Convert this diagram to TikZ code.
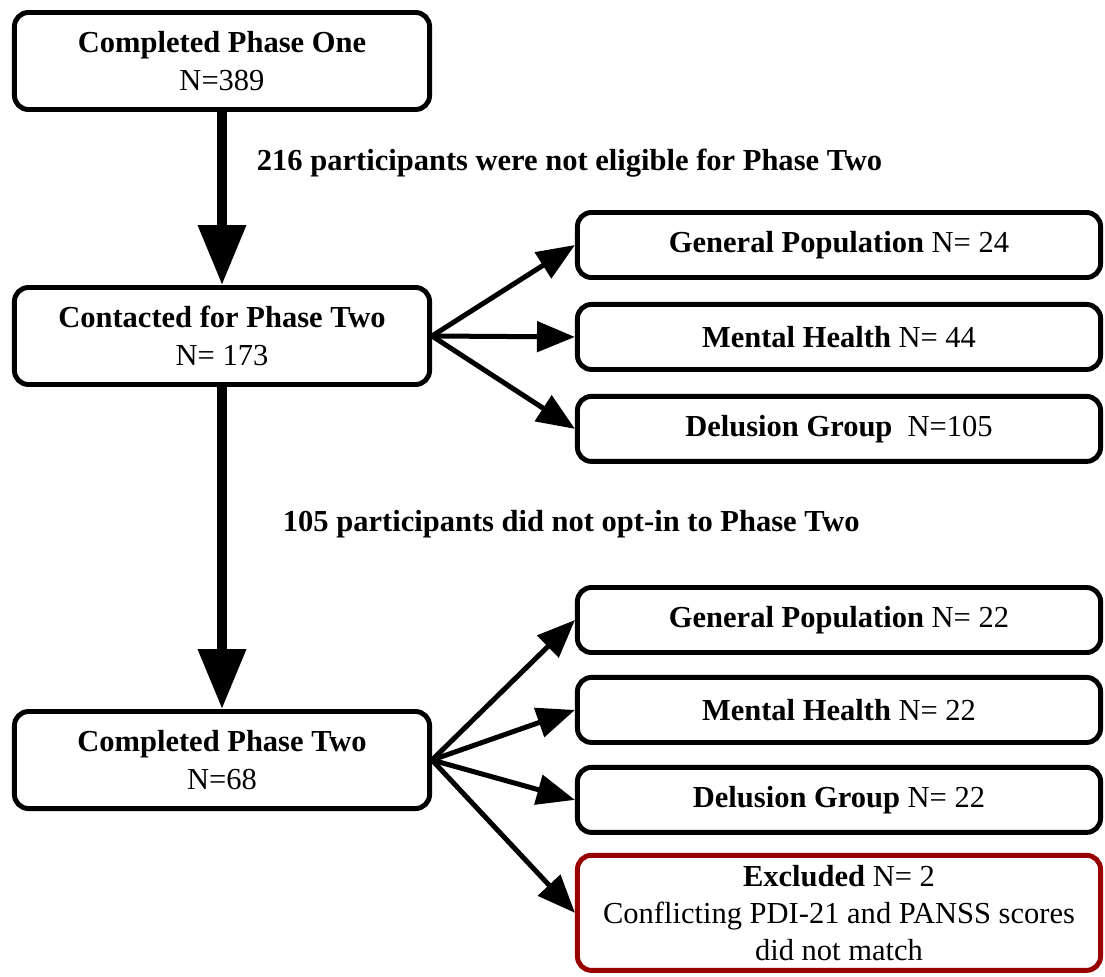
\documentclass[tikz,border=0pt]{standalone}
\usepackage{fontspec}
\setmainfont{Liberation Serif}
\usetikzlibrary{positioning,arrows.meta}
\definecolor{exclred}{RGB}{153,0,0}
\tikzset{
  stage box/.style={
    draw, line width=3.5pt, rounded corners=0.35cm,
    minimum width=10.375cm, minimum height=2.425cm,
    align=center, font=\fontsize{21.7pt}{27pt}\selectfont,
  },
  group box/.style={
    draw, line width=3.5pt, rounded corners=0.35cm,
    minimum width=13.075cm, minimum height=1.625cm,
    align=center, font=\fontsize{21.7pt}{26.5pt}\selectfont,
  },
  excluded box/.style={
    group box, draw=exclred, minimum height=2.875cm,
  },
  big arrow/.style={
    line width=0.25cm, -{Triangle[length=1.5cm,width=1.15cm]},
  },
  fan arrow/.style={
    line width=0.125cm, -{Triangle[length=0.95cm,width=0.75cm]},
  },
  annotation/.style={
    anchor=west, font=\fontsize{21.7pt}{26pt}\selectfont\bfseries,
  }
}

\begin{document}
\begin{tikzpicture}[x=0.025cm, y=-0.025cm, node distance=0.55cm]
        \useasboundingbox (0,0) rectangle (1105,976);

        % main column
        \node [stage box] (phaseone) at (222,61) {\textbf{Completed Phase One}\\N=389};
        \node [stage box, below=4.325cm of phaseone] (contacted) {\textbf{Contacted for Phase Two}\\N= 173};
        \node [stage box, below=8.05cm of contacted] (phasetwo) {\textbf{Completed Phase Two}\\N=68};

        % groups contacted
        \node [group box] (gpa) at (839,245) {\textbf{General Population} N= 24};
        \node [group box, below=of gpa] (mha) {\textbf{Mental Health} N= 44};
        \node [group box, below=of mha] (dga) {\textbf{Delusion Group}\ \ N=105};

        % groups completed
        \node [group box] (gpb) at (839,620) {\textbf{General Population} N= 22};
        \node [group box, below=0.5cm of gpb] (mhb) {\textbf{Mental Health} N= 22};
        \node [group box, below=0.5cm of mhb] (dgb) {\textbf{Delusion Group} N= 22};
        \node [excluded box, below=0.45cm of dgb] (excl) {\textbf{Excluded} N= 2\\Conflicting PDI-21 and PANSS scores\\did not match};

        \node [annotation] at (252,163) {216 participants were not eligible for Phase Two};
        \node [annotation] at (278,524) {105 participants did not opt-in to Phase Two};

        \draw [big arrow] (phaseone) -- (contacted);
        \draw [big arrow] (contacted) -- (phasetwo);

        \foreach \g in {gpa,mha,dga}
          \draw [fan arrow] (contacted.east) -- (\g.west);
        \foreach \g in {gpb,mhb,dgb,excl}
          \draw [fan arrow] (phasetwo.east) -- (\g.west);
      \end{tikzpicture}
\end{document}
